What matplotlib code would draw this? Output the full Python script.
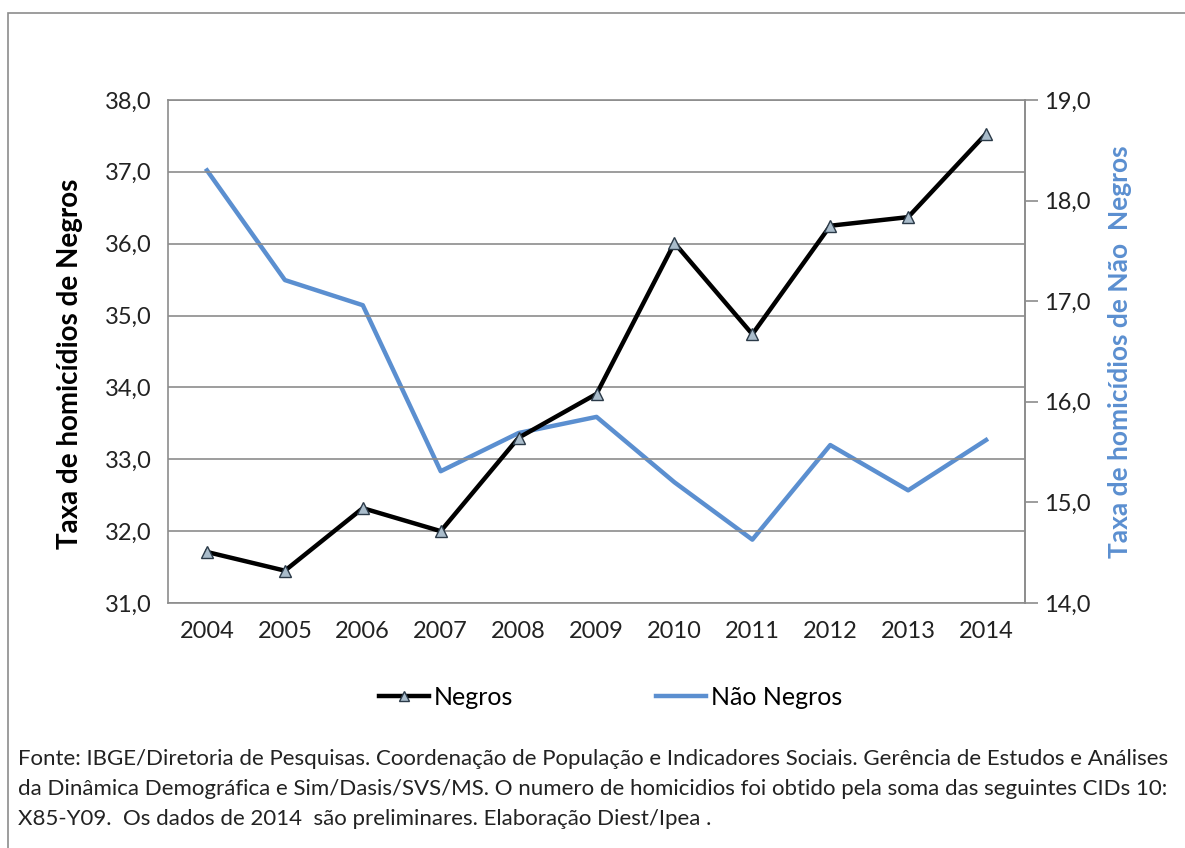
import matplotlib.pyplot as plt
from matplotlib.lines import Line2D

plt.rcParams['font.family'] = ['Lato', 'DejaVu Sans']

anos = ['2004', '2005', '2006', '2007', '2008', '2009', '2010', '2011', '2012', '2013', '2014']
negros = [31.71, 31.45, 32.32, 32.00, 33.30, 33.91, 36.01, 34.74, 36.25, 36.37, 37.53]
nao_negros = [18.30, 17.21, 16.96, 15.31, 15.69, 15.85, 15.20, 14.63, 15.57, 15.12, 15.62]

esq_ticks = [31, 32, 33, 34, 35, 36, 37, 38]
dir_ticks = [14, 15, 16, 17, 18, 19]

fonte = ("Fonte: IBGE/Diretoria de Pesquisas. Coordenação de População e Indicadores Sociais. "
         "Gerência de Estudos e Análises\n"
         "da Dinâmica Demográfica e Sim/Dasis/SVS/MS. O numero de homicidios foi obtido pela soma "
         "das seguintes CIDs 10:\n"
         "X85-Y09.  Os dados de 2014  são preliminares. Elaboração Diest/Ipea .")

preto = '#000000'
azul = '#5b8fd0'
cinza = '#8c8c8c'

fig = plt.figure(figsize=(11.85, 8.48), dpi=100)
ax = fig.add_axes([0.1418, 0.2889, 0.7232, 0.5932])
ax2 = ax.twinx()

x = range(len(anos))
ax2.plot(x, nao_negros, color=azul, lw=3.2, zorder=2)
ax.plot(x, negros, color=preto, lw=3.2, marker='^', markersize=8,
        markerfacecolor='#a9bccb', markeredgecolor='#2b3a48', markeredgewidth=1, zorder=3)
ax.set_zorder(ax2.get_zorder() + 1)
ax.patch.set_visible(False)

ax.set_xlim(-0.5, len(anos) - 0.5)
ax.set_ylim(31, 38)
ax2.set_ylim(14, 19)
ax.set_xticks(list(x))
ax.set_xticklabels(anos)
ax.set_yticks(esq_ticks)
ax.set_yticklabels([f"{v:.1f}".replace('.', ',') for v in esq_ticks])
ax2.set_yticks(dir_ticks)
ax2.set_yticklabels([f"{v:.1f}".replace('.', ',') for v in dir_ticks])

ax.yaxis.grid(True, color=cinza, lw=1.2)
ax.tick_params(axis='both', length=0, labelsize=17, colors='#222222', pad=12)
ax.tick_params(axis='x', pad=13)
ax2.tick_params(axis='y', length=9, width=1.2, color=cinza, labelsize=17,
                labelcolor='#222222', pad=5)

for a in (ax, ax2):
    for s in a.spines.values():
        s.set_color(cinza)
        s.set_linewidth(1.2)
ax2.spines['top'].set_visible(False)
ax2.spines['left'].set_visible(False)
ax2.spines['bottom'].set_visible(False)

ax.set_ylabel('Taxa de homicídios de Negros', fontsize=20, fontweight='bold')
ax.yaxis.set_label_coords(-0.099, 0.475)
ax2.set_ylabel('Taxa de homicídios de Não  Negros', fontsize=19, fontweight='bold',
               color=azul, labelpad=12)

handles = [Line2D([], [], color=preto, lw=3.2, marker='^', markersize=7,
                  markerfacecolor='#a9bccb', markeredgecolor='#2b3a48'),
           Line2D([], [], color=azul, lw=3.2)]
fig.legend(handles, ['Negros', 'Não Negros'], loc='center', bbox_to_anchor=(0.5153, 0.178),
           ncol=2, frameon=False, fontsize=18, handlelength=2.0, handletextpad=0.2,
           columnspacing=5.7)

fig.text(0.015, 0.0696, fonte, fontsize=16, va='center', ha='left', linespacing=1.6,
         color='#222222')

fig.add_artist(plt.Rectangle((8 / 1185, -0.01), 1.0, 1 - 13 / 848 + 0.01,
                             transform=fig.transFigure, fill=False,
                             edgecolor=cinza, lw=1.2))

fig.savefig('out.png', dpi=100)
